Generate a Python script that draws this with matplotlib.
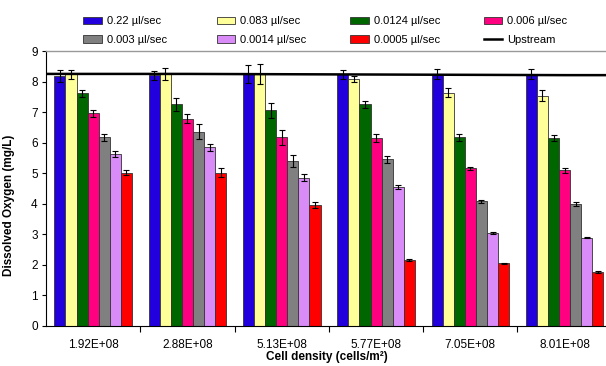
import numpy as np
import matplotlib
matplotlib.use("Agg")
import matplotlib.pyplot as plt
from matplotlib.patches import Patch
from matplotlib.lines import Line2D

plt.rcParams['font.family'] = ['Liberation Sans', 'DejaVu Sans']

# ------------------------
# Data
# ------------------------
densities = ["1.92E+08", "2.88E+08", "5.13E+08", "5.77E+08", "7.05E+08", "8.01E+08"]
flow_labels = ["0.22 \u00b5l/sec", "0.083 \u00b5l/sec", "0.0124 \u00b5l/sec", "0.006 \u00b5l/sec",
               "0.003 \u00b5l/sec", "0.0014 \u00b5l/sec", "0.0005 \u00b5l/sec"]
colors = ["#2200DD", "#FFFF99", "#006600", "#FF0080", "#808080", "#D98CF8", "#FF0000"]

# rows = flow rate, columns = cell density
do_mean = [
    [8.18, 8.21, 8.24, 8.24, 8.25, 8.25],   # 0.22
    [8.24, 8.24, 8.24, 8.07, 7.64, 7.54],   # 0.083
    [7.61, 7.25, 7.06, 7.25, 6.17, 6.14],   # 0.0124
    [6.96, 6.79, 6.17, 6.15, 5.16, 5.10],   # 0.006
    [6.17, 6.36, 5.40, 5.45, 4.09, 4.00],   # 0.003
    [5.63, 5.85, 4.86, 4.56, 3.05, 2.89],   # 0.0014
    [5.02, 5.02, 3.97, 2.16, 2.05, 1.78],   # 0.0005
]
do_err = [
    [0.20, 0.15, 0.30, 0.15, 0.17, 0.15],
    [0.15, 0.20, 0.33, 0.10, 0.15, 0.17],
    [0.10, 0.20, 0.25, 0.12, 0.10, 0.10],
    [0.12, 0.15, 0.25, 0.12, 0.06, 0.08],
    [0.10, 0.25, 0.20, 0.10, 0.05, 0.07],
    [0.10, 0.12, 0.12, 0.07, 0.04, 0.02],
    [0.07, 0.15, 0.10, 0.03, 0.02, 0.03],
]
upstream = [8.25, 8.25, 8.24, 8.23, 8.22, 8.21]

# ------------------------
# Plot
# ------------------------
fig = plt.figure(figsize=(6.06, 3.66), dpi=100)
ax = fig.add_axes([46/606, 40/366, 6*94.3/606, 275/366])

x = np.arange(len(densities))
w = 0.1177
for i in range(len(flow_labels)):
    ax.bar(x + (i - 3) * w, do_mean[i], w, color=colors[i], edgecolor="#333333",
           linewidth=0.6, yerr=do_err[i], capsize=2.5,
           error_kw=dict(ecolor="black", elinewidth=0.8, capthick=0.8), zorder=2)

# upstream reference line across the whole plot
ux = np.concatenate(([-0.5], x, [len(x) - 0.5]))
uy = np.concatenate(([upstream[0]], upstream, [upstream[-1]]))
ax.plot(ux, uy, color="black", linewidth=1.8, zorder=3)

ax.set_xlim(-0.5, len(x) - 0.5)
ax.set_ylim(0, 9)
ax.set_yticks(range(0, 10))
ax.set_xticks(x)
ax.set_xticklabels(densities, fontsize=8.5)
ax.set_xticks(np.arange(0.5, len(x) - 0.5, 1), minor=True)
ax.tick_params(axis="x", which="major", length=0, pad=9)
ax.tick_params(axis="x", which="minor", length=4, width=0.8, direction="out")
ax.tick_params(axis="y", length=3, width=0.8, labelsize=8.5, pad=3)

ax.spines["right"].set_visible(False)
ax.spines["top"].set_color("#999999")
ax.spines["top"].set_linewidth(1.0)

ax.set_xlabel("Cell density (cells/m\u00b2)", fontsize=8.5, fontweight="bold")
ax.xaxis.set_label_coords(0.497, -0.09)
ax.set_ylabel("Dissolved Oxygen (mg/L)", fontsize=8.5, fontweight="bold")
ax.yaxis.set_label_coords(-0.055, 0.44)

# legend: one small legend per column, two rows each
handles = [Patch(facecolor=c, edgecolor="#333333", linewidth=0.6) for c in colors]
handles.append(Line2D([0], [0], color="black", linewidth=1.8))
labels = flow_labels + ["Upstream"]
col_x = [83, 216.5, 350, 483.5]
for c in range(4):
    leg = fig.legend([handles[c], handles[c + 4]], [labels[c], labels[c + 4]],
                     loc="upper left", bbox_to_anchor=(col_x[c] / 606, 1 - 16 / 366),
                     frameon=False, fontsize=8, borderpad=0, borderaxespad=0,
                     handlelength=1.7, handleheight=0.6, handletextpad=0.45,
                     labelspacing=0.8)

plt.savefig("out.png", dpi=100)
